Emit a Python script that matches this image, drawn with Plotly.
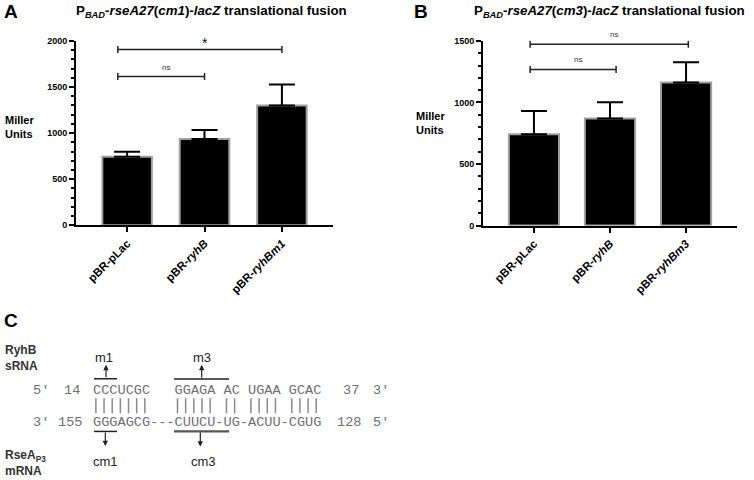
import plotly.graph_objects as go

# ---------------- data ----------------
cats_a = ["pBR-pLac", "pBR-ryhB", "pBR-ryhBm1"]
ticktext_a = ["pBR-pLac", "pBR-<i>ryhB</i>", "pBR-<i>ryhBm1</i>"]
means_a = [745, 935, 1300]
errs_a = [53, 100, 228]
brackets_a = [(-0.12, 1.0, 1614, "ns"), (-0.12, 2.0, 1907, "*")]

cats_b = ["pBR-pLac", "pBR-ryhB", "pBR-ryhBm3"]
ticktext_b = ["pBR-pLac", "pBR-<i>ryhB</i>", "pBR-<i>ryhBm3</i>"]
means_b = [742, 871, 1163]
errs_b = [188, 131, 164]
brackets_b = [(-0.05, 1.08, 1269, "ns"), (-0.05, 2.03, 1473, "ns")]

title_a = "<b>P<sub><i>BAD</i></sub>-<i>rseA27</i>(<i>cm1</i>)-<i>lacZ</i> translational fusion</b>"
title_b = "<b>P<sub><i>BAD</i></sub>-<i>rseA27</i>(<i>cm3</i>)-<i>lacZ</i> translational fusion</b>"

seq_top = "CCCUCGC   GGAGA AC UGAA GCAC"
seq_bot = "GGGAGCG---CUUCU-UG-ACUU-CGUG"

W, H = 754, 480
SANS = "Liberation Sans, Arial, Helvetica, sans-serif"
MONO = "Liberation Mono, Courier New, monospace"


def X(px):
    return px / W


def Y(py):
    return 1 - py / H


fig = go.Figure()

fig.add_trace(go.Bar(
    x=cats_a, y=means_a, width=0.64, xaxis="x", yaxis="y",
    marker=dict(color="black", line=dict(color="#a0a0a0", width=2)),
    error_y=dict(type="data", symmetric=False, array=errs_a, arrayminus=[0] * 3,
                 width=13, thickness=2, color="black"),
    showlegend=False, hoverinfo="skip"))
fig.add_trace(go.Bar(
    x=cats_b, y=means_b, width=0.66, xaxis="x2", yaxis="y2",
    marker=dict(color="black", line=dict(color="#a0a0a0", width=2)),
    error_y=dict(type="data", symmetric=False, array=errs_b, arrayminus=[0] * 3,
                 width=13, thickness=2, color="black"),
    showlegend=False, hoverinfo="skip"))

xcommon = dict(showline=True, linewidth=2, linecolor="black", ticks="outside",
               ticklen=5, tickwidth=1.5, tickcolor="black", showgrid=False,
               zeroline=False, tickangle=-45,
               tickfont=dict(family=SANS, size=11.5, color="black", weight="bold"))
ycommon = dict(showline=True, linewidth=2, linecolor="black", ticks="outside",
               ticklen=5, tickwidth=1.5, tickcolor="black", showgrid=False,
               zeroline=False, dtick=500,
               tickfont=dict(family=SANS, size=9, color="black", weight="bold"),
               minor=dict(dtick=100, ticks="outside", ticklen=3, tickwidth=1.5,
                          tickcolor="black", showgrid=False))

fig.update_layout(
    width=W, height=H, margin=dict(l=0, r=0, t=0, b=0),
    paper_bgcolor="white", plot_bgcolor="white",
    xaxis=dict(domain=[X(76), X(333)], range=[-0.66, 2.66], anchor="y",
               tickvals=cats_a, ticktext=ticktext_a, **xcommon),
    yaxis=dict(domain=[Y(225), Y(36.7)], range=[0, 2000], anchor="x", **ycommon),
    xaxis2=dict(domain=[X(483), X(737)], range=[-0.67, 2.67], anchor="y2",
                tickvals=cats_b, ticktext=ticktext_b, **xcommon),
    yaxis2=dict(domain=[Y(225.3), Y(36.7)], range=[0, 1500], anchor="x2", **ycommon),
)

shapes = []
annos = []

# significance brackets
for (xr, yr, brs) in (("x", "y", brackets_a), ("x2", "y2", brackets_b)):
    for x0, x1, yv, lab in brs:
        shapes.append(dict(type="line", xref=xr, yref=yr, x0=x0, x1=x1, y0=yv, y1=yv,
                           line=dict(color="#222222", width=1.5)))
        for xe in (x0, x1):
            shapes.append(dict(type="line", xref=xr, yref=yr, x0=xe, x1=xe,
                               ysizemode="pixel", yanchor=yv, y0=-3.5, y1=3.5,
                               line=dict(color="#222222", width=1.5)))
        star = lab == "*"
        annos.append(dict(xref=xr, yref=yr, x=(x0 + x1) / 2 + 0.06, y=yv, text=lab,
                          showarrow=False, yanchor="bottom", yshift=-3 if star else 3,
                          font=dict(family=SANS, size=14 if star else 8,
                                    color="#111111" if star else "#333333")))

# panel letters and titles
for txt, x, y in (("A", 2, 6.5), ("B", 412, 6.5), ("C", 2, 322.5)):
    annos.append(dict(xref="paper", yref="paper", x=X(x), y=Y(y), text="<b>%s</b>" % txt,
                      xanchor="left", yanchor="middle", showarrow=False,
                      font=dict(family=SANS, size=19, color="black")))
for txt, x in ((title_a, 211), (title_b, 609)):
    annos.append(dict(xref="paper", yref="paper", x=X(x), y=Y(7), text=txt,
                      xanchor="center", yanchor="middle", showarrow=False,
                      font=dict(family=SANS, size=13.3, color="black")))
for x, y in ((3, 124.5), (414, 120)):
    annos.append(dict(xref="paper", yref="paper", x=X(x), y=Y(y), text="<b>Miller<br>Units</b>",
                      xanchor="left", yanchor="middle", align="left", showarrow=False,
                      font=dict(family=SANS, size=11, color="black")))

# ---------------- panel C ----------------
annos.append(dict(xref="paper", yref="paper", x=X(3), y=Y(361), text="<b>RyhB<br>sRNA</b>",
                  xanchor="left", yanchor="middle", align="left", showarrow=False,
                  font=dict(family=SANS, size=12, color="#333333")))
annos.append(dict(xref="paper", yref="paper", x=X(3), y=Y(468), text="<b>RseA<sub>P3</sub><br>mRNA</b>",
                  xanchor="left", yanchor="middle", align="left", showarrow=False,
                  font=dict(family=SANS, size=12, color="#333333")))

GREY = "#6e6e6e"
FS = 13.6
CW = FS * 0.6001
SX = 91.8
ytop, ybot = 393.5, 426.5
for txt, x, yy in (("5′", 32, ytop), ("14", 62.5, ytop), (seq_top, SX, ytop), ("37", 341.5, ytop), ("3′", 371.5, ytop),
                   ("3′", 32, ybot), ("155", 56.5, ybot), (seq_bot, SX, ybot), ("128", 335.5, ybot), ("5′", 371.5, ybot)):
    annos.append(dict(xref="paper", yref="paper", x=X(x), y=Y(yy), text=txt.replace(" ", "&nbsp;"),
                      xanchor="left", yanchor="middle", showarrow=False, borderpad=0,
                      font=dict(family=MONO, size=FS, color=GREY)))

# base-pair bars
for i, (a, b) in enumerate(zip(seq_top, seq_bot)):
    if a != " " and b != "-":
        xc = SX + (i + 0.5) * CW
        shapes.append(dict(type="line", xref="paper", yref="paper", x0=X(xc), x1=X(xc),
                           y0=Y(401.5), y1=Y(417), line=dict(color="#8a8a8a", width=1.5)))

# mutation brackets
for x0, x1, yy, col, w in ((94, 117, 381.7, "#222222", 1.5), (174, 229, 382, "#222222", 1.5),
                           (94, 117, 435.5, "#222222", 1.5), (174, 229, 435.5, "#555555", 2.2)):
    shapes.append(dict(type="line", xref="paper", yref="paper", x0=X(x0), x1=X(x1),
                       y0=Y(yy), y1=Y(yy), line=dict(color=col, width=w)))

# arrows
for xt, yt, dy in ((106, 367.5, 14), (201.7, 367.5, 14.5), (105.3, 450.5, -15), (200.3, 451, -15.5)):
    annos.append(dict(xref="paper", yref="paper", x=X(xt), y=Y(yt), ax=0, ay=dy, text="",
                      showarrow=True, arrowhead=2, arrowsize=0.9, arrowwidth=1.2, arrowcolor="#222222"))

for txt, xc, yc in (("m1", 104, 360), ("m3", 202, 360), ("cm1", 105, 466.5), ("cm3", 203.3, 466.5)):
    annos.append(dict(xref="paper", yref="paper", x=X(xc), y=Y(yc), text=txt,
                      xanchor="center", yanchor="middle", showarrow=False,
                      font=dict(family=SANS, size=13, color="#222222")))

fig.update_layout(shapes=shapes, annotations=annos)
# remove the browser's default 8px page margin so the figure sits at the window corner
fig.write_html("out.html", config={"displayModeBar": False},
               post_script="document.body.style.margin='0';document.body.style.overflow='hidden';")
